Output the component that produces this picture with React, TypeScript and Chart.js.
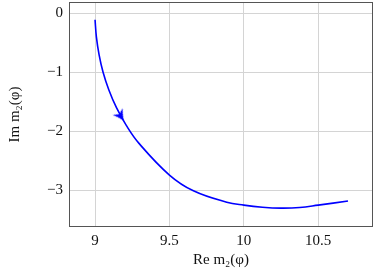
import { useEffect, useRef } from 'react';
import { Chart, registerables } from 'chart.js';

Chart.register(...registerables);

const reValues = [9.0, 9.009, 9.027, 9.054, 9.093, 9.144, 9.21, 9.294, 9.5, 9.661, 9.885, 10.0, 10.125, 10.25, 10.375, 10.5, 10.7];
const imValues = [-0.11, -0.4, -0.7, -1.0, -1.3, -1.6, -1.9, -2.2, -2.74, -3.007, -3.2, -3.25, -3.285, -3.3, -3.29, -3.25, -3.18];
// Direction arrow position on the curve
const arrowRe = [9.169];
const arrowIm = [-1.73];
// Axes
const xTicks = [9, 9.5, 10, 10.5];
const yTicks = [0, -1, -2, -3];
const xRange = [8.825, 10.868];
const yRange = [-3.62, 0.19];
const xTitle = 'Re m\u2082(\u03c6)';
const yTitle = 'Im m\u2082(\u03c6)';

const FONT = "'Liberation Serif', 'DejaVu Serif', serif";
const BLUE = '#0000ff';

function makeArrow(): HTMLCanvasElement {
  const c = document.createElement('canvas');
  c.width = 18;
  c.height = 18;
  const g = c.getContext('2d')!;
  g.fillStyle = BLUE;
  g.beginPath();
  g.moveTo(9, 3);
  g.quadraticCurveTo(11.8, 9, 15, 13.5);
  g.lineTo(9, 10.5);
  g.lineTo(3, 13.5);
  g.quadraticCurveTo(6.2, 9, 9, 3);
  g.closePath();
  g.fill();
  return c;
}

const fmt = (v: number | string) => String(v).replace('-', '\u2212');

const framePlugin = {
  id: 'frame',
  afterDraw(chart: any) {
    const { ctx, chartArea: a } = chart;
    ctx.save();
    ctx.strokeStyle = '#555555';
    ctx.lineWidth = 1;
    ctx.strokeRect(Math.round(a.left) + 0.5, Math.round(a.top) + 0.5, Math.round(a.right - a.left) - 1, Math.round(a.bottom - a.top) - 1);
    ctx.restore();
  },
};

export default function App() {
  const ref = useRef<HTMLCanvasElement | null>(null);

  useEffect(() => {
    if (!ref.current) return;
    Chart.defaults.color = '#111';
    const curve = reValues.map((x, i) => ({ x, y: imValues[i] }));
    const arrow = arrowRe.map((x, i) => ({ x, y: arrowIm[i] }));
    const chart = new Chart(ref.current, {
      type: 'scatter',
      data: {
        datasets: [
          {
            data: curve,
            showLine: true,
            borderColor: BLUE,
            borderWidth: 1.6,
            pointRadius: 0,
            tension: 0.4,
          } as any,
          {
            data: arrow,
            pointStyle: makeArrow(),
            pointRotation: 146,
            pointRadius: 5,
            showLine: false,
          } as any,
        ],
      },
      options: {
        animation: false,
        responsive: true,
        maintainAspectRatio: false,
        layout: { autoPadding: false, padding: { top: 2, right: 9, left: 0, bottom: 0 } },
        plugins: { legend: { display: false }, tooltip: { enabled: false } },
        scales: {
          x: {
            type: 'linear',
            min: xRange[0],
            max: xRange[1],
            afterBuildTicks: (s: any) => {
              s.ticks = xTicks.map((v) => ({ value: v }));
            },
            afterFit: (s: any) => {
              s.height = 46;
              s.paddingLeft = 0;
              s.paddingRight = 0;
            },
            grid: { color: '#d4d4d4', drawTicks: false, lineWidth: 1 },
            border: { display: false },
            ticks: { padding: 5, font: { family: FONT, size: 15 }, callback: (v: any) => fmt(v) },
            title: { display: true, text: xTitle, font: { family: FONT, size: 15 }, padding: { bottom: 4 } },
          },
          y: {
            type: 'linear',
            min: yRange[0],
            max: yRange[1],
            afterBuildTicks: (s: any) => {
              s.ticks = yTicks.map((v) => ({ value: v }));
            },
            afterFit: (s: any) => {
              s.width = 69;
              s.paddingTop = 0;
              s.paddingBottom = 0;
            },
            grid: { color: '#d4d4d4', drawTicks: false, lineWidth: 1 },
            border: { display: false },
            ticks: { padding: 6, font: { family: FONT, size: 15 }, callback: (v: any) => fmt(v) },
            title: { display: true, text: yTitle, font: { family: FONT, size: 15 }, padding: { top: 6 } },
          },
        },
      },
      plugins: [framePlugin],
    });
    return () => chart.destroy();
  }, []);

  return (
    <div style={{ position: 'fixed', left: 0, top: 0, width: 382, height: 273 }}>
      <canvas ref={ref} />
    </div>
  );
}
